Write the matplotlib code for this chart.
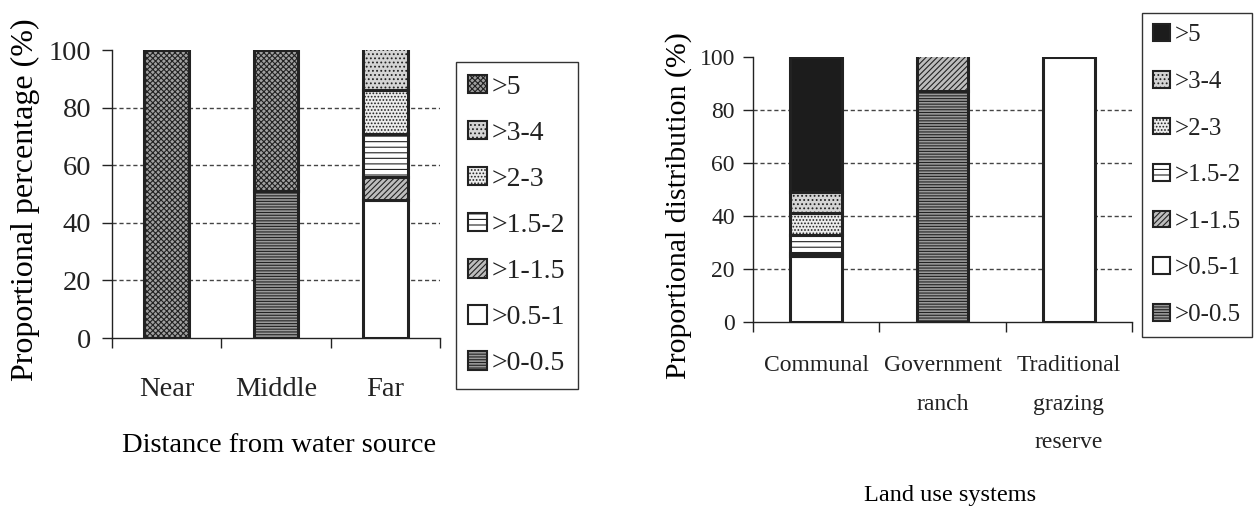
import matplotlib
matplotlib.use('Agg')
import matplotlib.pyplot as plt
import matplotlib.patches as mpatches
import numpy as np

plt.rcParams['font.family'] = ['Liberation Serif', 'DejaVu Serif']
plt.rcParams['hatch.linewidth'] = 0.8
plt.rcParams['text.color'] = '#222222'
plt.rcParams['axes.edgecolor'] = '#222222'
plt.rcParams['xtick.color'] = '#222222'
plt.rcParams['ytick.color'] = '#222222'

# size classes, stacked bottom to top
classes = ['>0-0.5', '>0.5-1', '>1-1.5', '>1.5-2', '>2-3', '>3-4', '>5']

# left panel: distance from water source
dist_cats = ['Near', 'Middle', 'Far']
dist_vals = {
    '>0-0.5': [0, 51, 0],
    '>0.5-1': [0, 0, 48],
    '>1-1.5': [0, 0, 8],
    '>1.5-2': [0, 0, 15],
    '>2-3':   [0, 0, 15],
    '>3-4':   [0, 0, 15],
    '>5':     [100, 49, 0],
}

# right panel: land use systems
land_cats = ['Communal', 'Government\nranch', 'Traditional\ngrazing\nreserve']
land_vals = {
    '>0-0.5': [0, 87, 0],
    '>0.5-1': [25, 0, 100],
    '>1-1.5': [1, 14, 0],
    '>1.5-2': [7, 0, 0],
    '>2-3':   [8, 0, 0],
    '>3-4':   [8, 0, 0],
    '>5':     [51, 0, 0],
}

yticks = [0, 20, 40, 60, 80, 100]

edge = '#222222'
left_style = {
    '>0-0.5': dict(facecolor='#9a9a9a', hatch='------'),
    '>0.5-1': dict(facecolor='white', hatch=None),
    '>1-1.5': dict(facecolor='#bdbdbd', hatch='//////'),
    '>1.5-2': dict(facecolor='white', hatch='---'),
    '>2-3':   dict(facecolor='#ececec', hatch='.....'),
    '>3-4':   dict(facecolor='#d4d4d4', hatch='....'),
    '>5':     dict(facecolor='#a0a0a0', hatch='xxxxxx'),
}
right_style = dict(left_style)
right_style['>5'] = dict(facecolor='#1c1c1c', hatch=None)


def draw_panel(ax, cats, vals, style, fs):
    x = np.arange(len(cats))
    bottom = np.zeros(len(cats))
    for cl in classes:
        h = np.array(vals[cl], dtype=float)
        bars = ax.bar(x, h, 0.41, bottom=bottom, edgecolor=edge,
                      linewidth=2.2, zorder=3, **style[cl])
        for r, v in zip(bars, h):
            if v == 0:
                r.set_visible(False)
        bottom += h
    ax.set_xlim(-0.5, len(cats) - 0.5)
    ax.set_ylim(0, 100)
    ax.set_yticks(yticks)
    ax.set_yticklabels([str(t) for t in yticks], fontsize=fs)
    for g in yticks[1:-1]:
        ax.axhline(g, color='#444444', linestyle=(0, (3, 2)), linewidth=1.0, zorder=1)
    ax.set_xticks(x)
    ax.set_xticklabels(cats, fontsize=fs, linespacing=2.08)
    ax.set_xticks(np.arange(len(cats) + 1) - 0.5, minor=True)
    ax.tick_params(axis='x', which='major', length=0, pad=28)
    ax.tick_params(axis='x', which='minor', length=7, direction='out', width=1)
    ax.tick_params(axis='y', length=7, direction='out', width=1, pad=8)
    ax.spines['top'].set_visible(False)
    ax.spines['right'].set_visible(False)
    ax.spines['left'].set_linewidth(1.0)
    ax.spines['bottom'].set_linewidth(1.0)


def make_legend(fig, style, anchor, fs, spacing):
    handles = [mpatches.Patch(edgecolor=edge, linewidth=1.5, label=cl, **style[cl])
               for cl in classes[::-1]]
    leg = fig.legend(handles=handles, loc='upper left', bbox_to_anchor=anchor,
                     fontsize=fs, frameon=True, fancybox=False, framealpha=1,
                     edgecolor='#333333', handlelength=0.65, handleheight=0.65,
                     handletextpad=0.2, labelspacing=spacing, borderpad=0.45,
                     borderaxespad=0)
    leg.get_frame().set_linewidth(1.0)
    return leg


fig = plt.figure(figsize=(12.55, 5.2), dpi=100)

ax1 = fig.add_axes([0.0892, 0.35, 0.2614, 0.5538])
draw_panel(ax1, dist_cats, dist_vals, left_style, 20.5)
ax1.set_ylabel('Proportional percentage (%)', fontsize=23)
ax1.yaxis.set_label_coords(-0.22, 0.48)
ax1.set_xlabel('Distance from water source', fontsize=20.5)
ax1.xaxis.set_label_coords(0.51, -0.375)
ax1.xaxis.label.set_va('center')

ax2 = fig.add_axes([0.6, 0.3808, 0.302, 0.5096])
draw_panel(ax2, land_cats, land_vals, right_style, 17)
ax2.tick_params(axis='x', which='major', pad=24)
ax2.tick_params(axis='y', pad=6)
ax2.set_ylabel('Proportional distribution (%)', fontsize=21.5)
ax2.yaxis.set_label_coords(-0.16, 0.44)
ax2.set_xlabel('Land use systems', fontsize=17.5)
ax2.xaxis.set_label_coords(0.52, -0.653)
ax2.xaxis.label.set_va('center')

make_legend(fig, left_style, (456 / 1255, 1 - 62 / 520), 20, 0.76)
make_legend(fig, right_style, (1142 / 1255, 1 - 13 / 520), 18, 0.98)

fig.savefig('out.png', dpi=100, facecolor='white')
